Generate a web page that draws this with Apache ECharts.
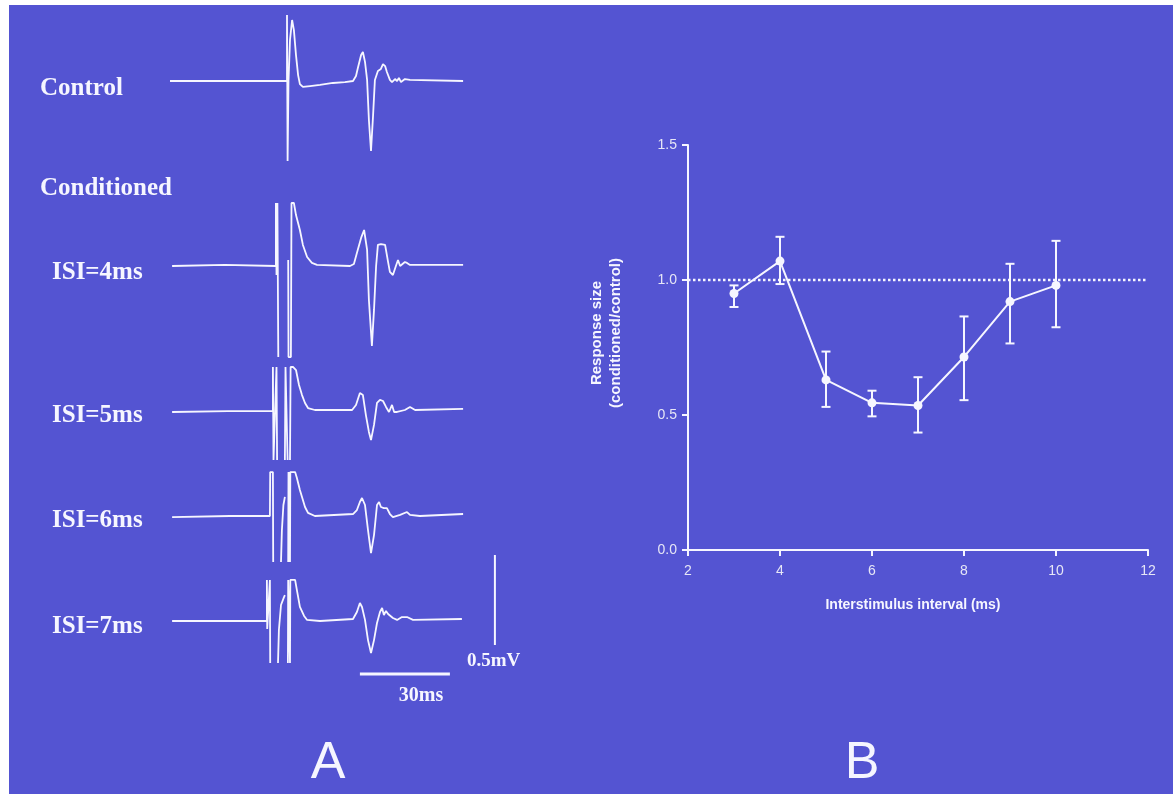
<!DOCTYPE html>
<html>
<head>
<meta charset="utf-8">
<script src="https://cdn.jsdelivr.net/npm/echarts@6/dist/echarts.min.js"></script>
<style>
  body { margin: 0; background: #fff; }
  #chart { width: 1173px; height: 794px; }
</style>
</head>
<body>
<div id="chart"></div>
<script>
// traces: [time (ms), voltage (mV)], null breaks where the trace is too fast to see
const controlTrace = [
  [0, 0], [39.0, 0], [39.0, 0.367], [39.2, -0.444], [39.5, 0], [40.0, 0.228], [40.7, 0.339], [41.3, 0.283],
  [42.0, 0.144], [42.7, 0.033], [43.3, -0.017], [44.3, -0.033], [46.7, -0.028], [50, -0.022], [54.3, -0.011],
  [58.3, -0.006], [61, 0], [62, 0.028], [62.7, 0.078], [63.7, 0.144], [64.3, 0.161], [65, 0.106], [65.7, 0.006],
  [66.3, -0.217], [67, -0.389], [67.7, -0.189], [68.3, 0.006], [69.3, 0.056], [70.3, 0.067], [71, 0.094],
  [71.7, 0.083], [72.3, 0.05], [73.3, 0.006], [74, -0.006], [75, 0.011], [75.7, 0], [76.3, 0.017], [77, -0.006],
  [78.3, 0.011], [80, 0.006], [97.7, 0]
]
const isi4Trace = [
  [0.7, 0], [18.3, 0.006], [35.3, 0], [35.3, 0.35], [35.5, -0.05], [35.8, 0.35], [36.1, -0.506], [36.2, null],
  [39.4, 0.033], [39.5, -0.506], [40.3, -0.506], [40.5, 0.35], [41.3, 0.35], [42, 0.283], [43.3, 0.2],
  [44.3, 0.117], [45.7, 0.05], [47.3, 0.017], [49, 0.006], [60, 0], [61.3, 0.011], [62.3, 0.072], [63.7, 0.156],
  [64.7, 0.2], [65.7, 0.089], [66.3, -0.189], [67.3, -0.444], [68, -0.244], [68.7, 0], [69.3, 0.117],
  [70.3, 0.122], [71.7, 0.117], [72.7, 0.022], [73.3, -0.033], [74.3, -0.05], [75.3, 0], [76, 0.033],
  [76.7, 0], [77.3, -0.006], [78.3, 0.022], [79, 0.017], [80, 0.006], [97.7, 0.006]
]
const isi5Trace = [
  [0.7, -0.011], [19.3, -0.006], [34.3, -0.006], [34.3, 0.239], [34.5, -0.278], [35.5, 0.239], [35.7, -0.278],
  [36, null], [38.3, -0.278], [38.5, 0.239], [39.2, -0.278], [39.5, null], [40, -0.278], [40.2, 0.239],
  [41, 0.239], [42, 0.222], [43, 0.139], [44, 0.083], [45, 0.039], [46, 0.011], [48.3, 0], [60.7, 0],
  [62, 0.028], [63.3, 0.094], [64.3, 0.083], [65.3, -0.028], [66.3, -0.122], [67, -0.167], [68, -0.083],
  [69, 0.039], [70, 0.056], [71, 0.05], [72, 0.017], [73, -0.011], [74, 0.028], [74.7, -0.011],
  [75.7, -0.011], [78.3, 0], [80, 0.017], [81.7, 0], [97.7, 0.006]
]
const isi6Trace = [
  [0.7, -0.006], [20, 0], [33.3, 0], [33.4, 0.244], [34.3, 0.244], [34.4, -0.256], [35, null],
  [37, -0.256], [37.3, -0.078], [37.8, 0.061], [38.3, 0.106], [38.8, null],
  [39.4, -0.256], [39.5, 0.244], [40, -0.256], [40.1, 0.244], [41.7, 0.244], [42.3, 0.211], [43.3, 0.144],
  [44, 0.106], [45, 0.05], [46, 0.017], [48.3, 0], [61, 0.011], [62.3, 0.033], [63.3, 0.078], [64, 0.1],
  [65, 0.061], [66, -0.078], [67, -0.206], [68, -0.106], [69, 0.061], [69.7, 0.078], [70.3, 0.05],
  [71.3, 0.044], [72.3, 0.044], [73.3, 0.011], [74.3, -0.006], [76.7, 0.006], [79, 0.022], [80, 0.006],
  [83.3, 0], [97.7, 0.011]
]
const isi7Trace = [
  [0.7, 0], [32.3, 0], [32.3, 0.228], [32.4, -0.044], [33.3, 0.228], [33.4, -0.233], [34, null],
  [36, -0.233], [36.3, -0.05], [37, 0.089], [38, 0.133], [38.3, 0.144], [38.8, null],
  [39.3, -0.233], [39.4, 0.228], [40, -0.233], [40.1, 0.228], [41.7, 0.228], [42.3, 0.172], [43.3, 0.078],
  [44.7, 0.028], [45.7, 0.006], [50, 0], [61, 0.011], [62.3, 0.05], [63.3, 0.1], [64, 0.078], [65, 0.006],
  [66, -0.106], [67, -0.178], [68, -0.106], [69, -0.011], [70, 0.05], [70.7, 0.072], [71.3, 0.033],
  [72, 0.056], [72.7, 0.039], [73.3, 0.028], [74.3, 0.017], [75.7, 0.006], [77.3, 0.022], [79, 0.022],
  [81, 0.006], [97.3, 0.011]
]
const traceLabels = ['Control', 'ISI=4ms', 'ISI=5ms', 'ISI=6ms', 'ISI=7ms']
// scale bars: 30 ms and 0.5 mV
const timeBar = [[63.3, 0], [93.3, 0]]
const voltBar = [[108.3, 0.161], [108.3, 0.661]]

// panel B
const isiValues = [3, 4, 5, 6, 7, 8, 9, 10]
const ratioMean = [0.95, 1.07, 0.63, 0.545, 0.535, 0.715, 0.92, 0.98]
const ratioUpper = [0.98, 1.16, 0.735, 0.59, 0.64, 0.865, 1.06, 1.145]
const ratioLower = [0.90, 0.985, 0.53, 0.495, 0.435, 0.555, 0.765, 0.825]
const xTicks = [2, 4, 6, 8, 10, 12]
const yTicks = [0.0, 0.5, 1.0, 1.5]

const blue = '#5454d2'
const ink = '#f6f6ff'

let chart = echarts.init(document.getElementById('chart'))

// baseline pixel row for each trace (+ scale bar), 180 px per mV, 3 px per ms
const baselines = [81, 266, 410, 516, 621, 674]
const vMax = [0.4, 0.4, 0.4, 0.4, 0.4, 0.7]
const vMin = -0.6
const traces = [controlTrace, isi4Trace, isi5Trace, isi6Trace, isi7Trace]

let grids = [], xAxes = [], yAxes = [], series = []
baselines.forEach((yb, i) => {
  grids.push({ left: 170, width: 330, top: yb - vMax[i] * 180, height: (vMax[i] - vMin) * 180 })
  xAxes.push({ type: 'value', gridIndex: i, min: 0, max: 110, show: false })
  yAxes.push({ type: 'value', gridIndex: i, min: vMin, max: vMax[i], show: false })
})
traces.forEach((d, i) => {
  series.push({
    type: 'line', xAxisIndex: i, yAxisIndex: i, data: d, showSymbol: false, clip: false,
    lineStyle: { color: ink, width: 1.8 }, silent: true
  })
})
series.push({
  type: 'line', xAxisIndex: 5, yAxisIndex: 5, data: timeBar, showSymbol: false, clip: false,
  lineStyle: { color: ink, width: 3 }
})
series.push({
  type: 'line', xAxisIndex: 5, yAxisIndex: 5, data: voltBar, showSymbol: false, clip: false,
  lineStyle: { color: ink, width: 2 }
})

// panel B grid
grids.push({ left: 688, width: 460, top: 145, height: 405 })
xAxes.push({
  type: 'value', gridIndex: 6, min: xTicks[0], max: xTicks[xTicks.length - 1], interval: 2,
  axisLine: { lineStyle: { color: ink, width: 2 } },
  axisTick: { show: true, length: 6, lineStyle: { color: ink, width: 2 } },
  axisLabel: { color: '#e6e6f6', fontSize: 14, fontFamily: 'Liberation Sans', margin: 14 },
  splitLine: { show: false }
})
yAxes.push({
  type: 'value', gridIndex: 6, min: yTicks[0], max: yTicks[yTicks.length - 1], interval: 0.5,
  axisLine: { show: true, lineStyle: { color: ink, width: 2 } },
  axisTick: { show: true, length: 6, lineStyle: { color: ink, width: 2 } },
  axisLabel: { color: '#e6e6f6', fontSize: 14, fontFamily: 'Liberation Sans', margin: 11,
    formatter: v => v.toFixed(1) },
  splitLine: { show: false }
})
series.push({
  type: 'line', xAxisIndex: 6, yAxisIndex: 6, data: [[2, 1], [12, 1]], showSymbol: false,
  lineStyle: { color: ink, width: 2.5, type: [2.5, 2.5] }
})
series.push({
  type: 'line', xAxisIndex: 6, yAxisIndex: 6,
  data: isiValues.map((x, i) => [x, ratioMean[i]]),
  symbol: 'circle', symbolSize: 9,
  itemStyle: { color: ink }, lineStyle: { color: ink, width: 2 }
})
series.push({
  type: 'custom', xAxisIndex: 6, yAxisIndex: 6,
  data: isiValues.map((x, i) => [x, ratioLower[i], ratioUpper[i]]),
  renderItem(params, api) {
    let lo = api.coord([api.value(0), api.value(1)])
    let hi = api.coord([api.value(0), api.value(2)])
    let w = 4.5
    let st = { stroke: ink, lineWidth: 2 }
    return {
      type: 'group', children: [
        { type: 'line', shape: { x1: lo[0], y1: lo[1], x2: hi[0], y2: hi[1] }, style: st },
        { type: 'line', shape: { x1: lo[0] - w, y1: lo[1], x2: lo[0] + w, y2: lo[1] }, style: st },
        { type: 'line', shape: { x1: hi[0] - w, y1: hi[1], x2: hi[0] + w, y2: hi[1] }, style: st }
      ]
    }
  }
})

const serif = { fill: ink, fontFamily: 'Liberation Serif', fontWeight: 'bold', fontSize: 25, textVerticalAlign: 'middle' }
const labelY = [89, 273, 416, 521, 627]
let graphics = [
  { type: 'rect', z: -100, shape: { x: 0, y: 0, width: 1173, height: 5 }, style: { fill: '#fff' } },
  { type: 'rect', z: -100, shape: { x: 0, y: 0, width: 9, height: 794 }, style: { fill: '#fff' } },
  { type: 'text', x: 40, y: labelY[0], style: Object.assign({ text: traceLabels[0] }, serif) },
  { type: 'text', x: 40, y: 189, style: Object.assign({ text: 'Conditioned' }, serif) }
]
traceLabels.slice(1).forEach((t, i) => {
  graphics.push({ type: 'text', x: 52, y: labelY[i + 1], style: Object.assign({ text: t }, serif) })
})
graphics.push(
  { type: 'text', x: 467, y: 661, style: { text: '0.5mV', fill: ink, fontFamily: 'Liberation Serif', fontWeight: 'bold', fontSize: 19, textVerticalAlign: 'middle' } },
  { type: 'text', x: 421, y: 696, style: { text: '30ms', fill: ink, fontFamily: 'Liberation Serif', fontWeight: 'bold', fontSize: 20, textAlign: 'center', textVerticalAlign: 'middle' } },
  { type: 'text', x: 913, y: 605, style: { text: 'Interstimulus interval (ms)', fill: ink, fontFamily: 'Liberation Sans', fontWeight: 'bold', fontSize: 14, textAlign: 'center', textVerticalAlign: 'middle' } },
  { type: 'text', x: 606, y: 333, rotation: Math.PI / 2,
    style: { text: 'Response size\n(conditioned/control)', fill: ink, fontFamily: 'Liberation Sans', fontWeight: 'bold', fontSize: 15, lineHeight: 19, textAlign: 'center', textVerticalAlign: 'middle' } },
  { type: 'text', x: 328, y: 764, style: { text: 'A', fill: ink, fontFamily: 'Liberation Sans', fontSize: 52, textAlign: 'center', textVerticalAlign: 'middle' } },
  { type: 'text', x: 862, y: 764, style: { text: 'B', fill: ink, fontFamily: 'Liberation Sans', fontSize: 52, textAlign: 'center', textVerticalAlign: 'middle' } }
)

chart.setOption({
  backgroundColor: blue,
  animation: false,
  grid: grids,
  xAxis: xAxes,
  yAxis: yAxes,
  series: series,
  graphic: graphics
})
</script>
</body>
</html>
